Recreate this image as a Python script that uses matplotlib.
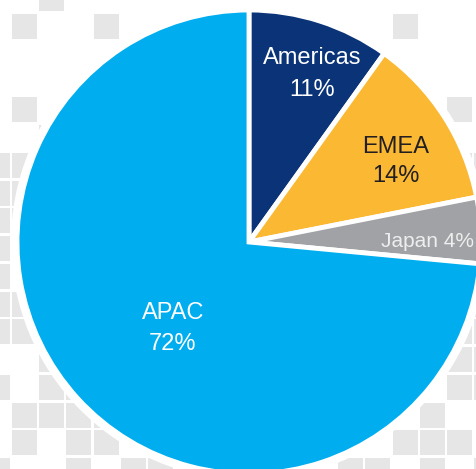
import matplotlib
matplotlib.use("Agg")
import matplotlib.pyplot as plt
from matplotlib.patches import Rectangle, Circle

# slice shares, labels as printed on the chart
regions = ["Americas", "EMEA", "Japan", "APAC"]
shares = [9.9, 12.0, 4.6, 73.5]
pct_labels = ["11%", "14%", "4%", "72%"]
colors = ["#0b3478", "#fbb833", "#a1a2a6", "#00aeef"]
text_colors = ["white", "#231f20", "#eeeeee", "white"]

# decorative background squares (column, row) on the grid
bg_cells = [(1, -1), (0, 0), (3, 0), (0, 3), (1, 4), (-1, 5), (0, 5), (-1, 6), (0, 6),
            (-1, 7), (0, 7), (-1, 8), (-1, 9), (-1, 10), (0, 10), (-1, 11), (0, 11),
            (1, 12), (-1, 13), (1, 13), (2, 13), (0, 14), (1, 14), (2, 14), (3, 14),
            (0, 15), (2, 15), (3, 15), (-1, 16), (2, 16), (4, 16), (5, 16),
            (14, 0), (16, 3), (16, 5), (17, 5),
            (17, 10), (16, 11), (17, 11), (16, 12), (17, 12), (16, 13), (17, 13),
            (15, 14), (14, 15), (15, 15), (16, 15), (12, 16), (13, 16), (15, 16), (17, 16)]

W, H = 476, 469
plt.rcParams['font.family'] = ['Liberation Sans', 'DejaVu Sans']

fig = plt.figure(figsize=(W / 100, H / 100), dpi=100)
ax = fig.add_axes([0, 0, 1, 1])

for i, j in bg_cells:
    x0 = 12 + 27.18 * i
    y0 = 14 + 27.75 * j
    ax.add_patch(Rectangle((x0, H - y0 - 25), 25, 25, color="#e6e6e6", lw=0, zorder=0))

cx, cy, r = 249, H - 242, 232
ax.add_patch(Circle((cx, cy), r + 6, color="white", lw=0, zorder=1))

wedges, _ = ax.pie(shares, colors=colors, startangle=90, counterclock=False,
                   center=(cx, cy), radius=r,
                   wedgeprops=dict(edgecolor="white", linewidth=3.5))
for w in wedges:
    w.set_zorder(2)

# label baselines in image pixels: (x, name line, percent line)
label_pos = [(312, 64, 96), (396, 152.5, 181.5), (427.5, 246.5, None), (173, 318.5, 350)]
for k in range(len(regions)):
    x, y1, y2 = label_pos[k]
    if y2 is None:
        ax.text(x, H - y1, regions[k] + " " + pct_labels[k], ha="center", va="baseline",
                fontsize=15, color=text_colors[k], zorder=3)
        continue
    ax.text(x, H - y1, regions[k], ha="center", va="baseline", fontsize=17,
            color=text_colors[k], zorder=3)
    ax.text(x, H - y2, pct_labels[k], ha="center", va="baseline", fontsize=17,
            color=text_colors[k], zorder=3)

ax.set_xlim(0, W)
ax.set_ylim(0, H)
ax.set_aspect("auto")
ax.axis("off")
fig.savefig("out.png", dpi=100)
